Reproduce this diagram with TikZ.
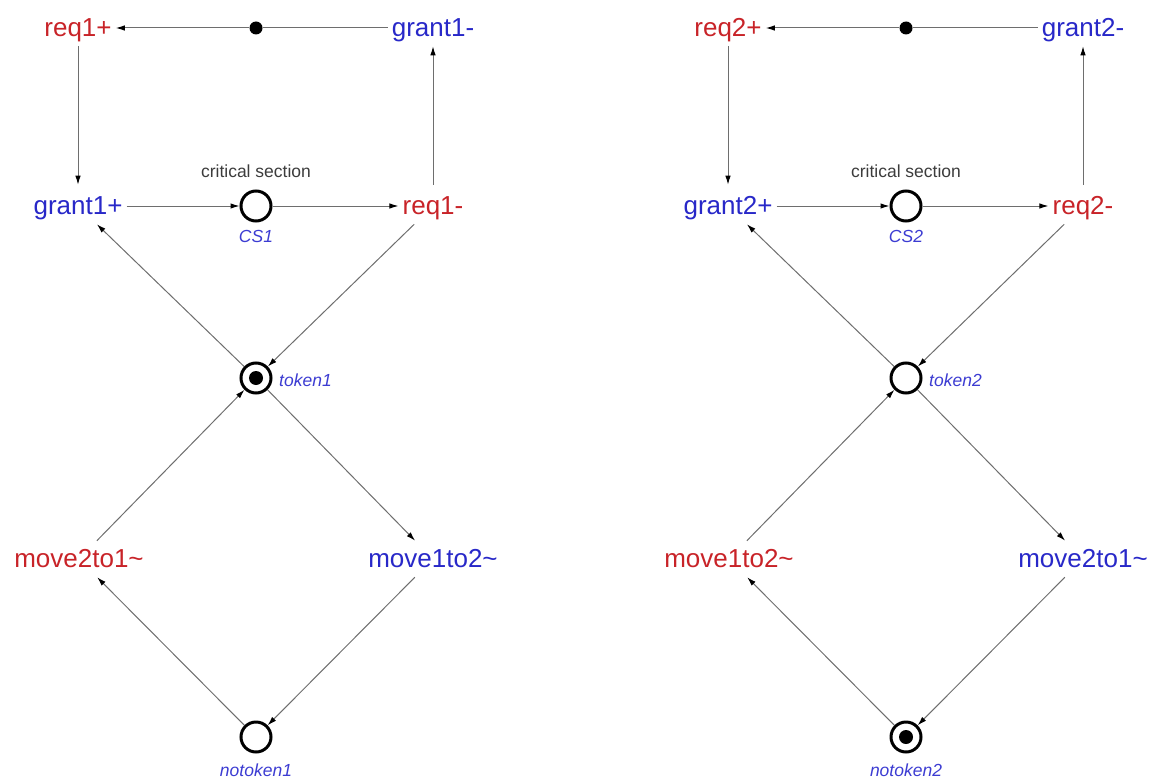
\documentclass[tikz,border=0pt]{standalone}
\usepackage{fontspec}
\setmainfont{Liberation Sans}
\usetikzlibrary{arrows.meta}

\definecolor{sigred}{RGB}{200,35,40}
\definecolor{sigblue}{RGB}{40,40,200}
\definecolor{lblblue}{RGB}{60,60,210}
\definecolor{arcgray}{RGB}{110,110,110}
\definecolor{notegray}{RGB}{60,60,60}

\tikzset{
  sig/.style={font=\fontsize{26}{26}\selectfont, inner xsep=4pt, inner ysep=6pt,
              text height=20.5pt, text depth=3.7pt},
  inp/.style={sig, text=sigred},
  outp/.style={sig, text=sigblue},
  place/.style={circle, draw=black, line width=3pt, minimum size=30pt, inner sep=0pt},
  marked/.style={place, path picture={\fill[black] (path picture bounding box.center) circle (7pt);}},
  implicit/.style={circle, fill=black, minimum size=13pt, inner sep=0pt},
  note/.style={font=\fontsize{17.5}{17.5}\selectfont, inner sep=0pt},
  placelbl/.style={note, font=\fontsize{17.5}{17.5}\selectfont\itshape, text=lblblue},
  arc/.style={draw=arcgray, line width=1pt, -{Latex[length=9pt,width=5.5pt,black]}},
  link/.style={draw=arcgray, line width=1pt},
}

% One half of the net: #1 index, #2 x offset, #3 left move, #4 right move,
% #5 style of the token place, #6 style of the notoken place
\newcommand\stgnet[6]{%
  \begin{scope}[xshift=#2pt]
    \node[inp]      (reqp#1)   at (78,28)   {req#1+};
    \node[implicit] (imp#1)    at (256,28)  {};
    \node[outp]     (grantm#1) at (433,28)  {grant#1-};
    \node[outp]     (grantp#1) at (78,206)  {grant#1+};
    \node[place]    (cs#1)     at (256,206) {};
    \node[inp]      (reqm#1)   at (433,206) {req#1-};
    \node[note, text=notegray] (cstitle#1) at (256,171) {critical section};
    \node[placelbl] (cslbl#1)  at (256,236) {CS#1};
    \node[#5]       (tok#1)    at (256,378) {};
    \node[placelbl, anchor=west] (toklbl#1) at (279,380) {token#1};
    \node[inp]      (mvl#1)    at (79,559)  {#3};
    \node[outp]     (mvr#1)    at (433,559) {#4};
    \node[#6]       (notok#1)  at (256,737) {};
    \node[placelbl] (notoklbl#1) at (256,770) {notoken#1};

    \draw[link] (grantm#1) -- (imp#1);
    \draw[arc] (imp#1) -- (reqp#1);
    \draw[arc, shorten >=3pt] (reqp#1) -- (grantp#1);
    \draw[arc] (grantp#1) -- (cs#1);
    \draw[arc] (cs#1) -- (reqm#1);
    \draw[arc, shorten <=3pt] (reqm#1) -- (grantm#1);
    \draw[arc] (tok#1) -- (grantp#1);
    \draw[arc] (reqm#1) -- (tok#1);
    \draw[arc] (tok#1) -- (mvr#1);
    \draw[arc] (mvl#1) -- (tok#1);
    \draw[arc] (notok#1) -- (mvl#1);
    \draw[arc] (mvr#1) -- (notok#1);
  \end{scope}}

\begin{document}
\begin{tikzpicture}[x=1pt, y=-1pt]
  \useasboundingbox (0,0) rectangle (1155,778);
  \stgnet{1}{0}{move2to1\textasciitilde}{move1to2\textasciitilde}{marked}{place}
  \stgnet{2}{650}{move1to2\textasciitilde}{move2to1\textasciitilde}{place}{marked}
\end{tikzpicture}
\end{document}
